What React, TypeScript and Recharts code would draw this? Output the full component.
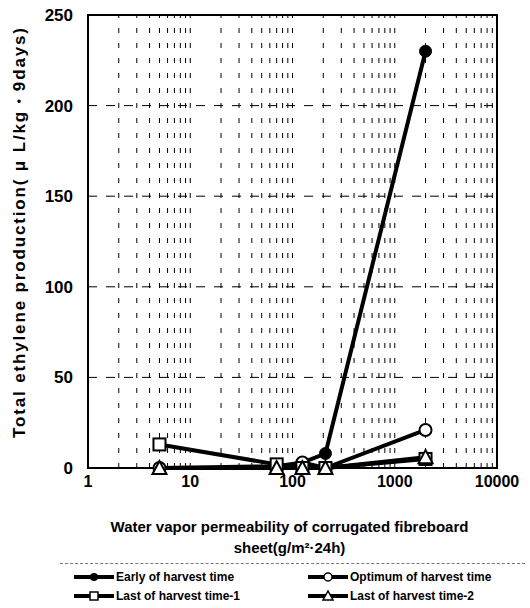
import React from "react";
import {
  LineChart,
  Line,
  XAxis,
  YAxis,
  ReferenceLine,
  ReferenceArea,
  Label,
} from "recharts";

// water vapor permeability (g/m2·24h)
const permeability = [5, 70, 125, 210, 2000];
const earlyHarvest = [0, 0, 3, 8, 230];
const optimumHarvest = [0, 1, 3, 0, 21];
const lastHarvest1 = [13, 2, 0, 0, 5];
const lastHarvest2 = [0, 0, 0, 0, 6];

const xTicks = [1, 10, 100, 1000, 10000];
const yTicks = [0, 50, 100, 150, 200, 250];
const minorX = [1, 10, 100, 1000].flatMap((d) =>
  [2, 3, 4, 5, 6, 7, 8, 9].map((m) => m * d)
);

const seriesNames = {
  early: "Early of harvest time",
  optimum: "Optimum of harvest time",
  last1: "Last of harvest time-1",
  last2: "Last of harvest time-2",
};

const data = permeability.map((x, i) => ({
  x,
  early: earlyHarvest[i],
  optimum: optimumHarvest[i],
  last1: lastHarvest1[i],
  last2: lastHarvest2[i],
}));

const FONT = "'Liberation Sans', Arial, sans-serif";

const Square = (props: any) => {
  const { cx, cy } = props;
  if (cx == null || cy == null) return null;
  return (
    <rect x={cx - 6} y={cy - 6} width={12} height={12} fill="#fff" stroke="#000" strokeWidth={2} />
  );
};

const Triangle = (props: any) => {
  const { cx, cy } = props;
  if (cx == null || cy == null) return null;
  return (
    <polygon
      points={`${cx},${cy - 7} ${cx - 7},${cy + 6} ${cx + 7},${cy + 6}`}
      fill="#fff"
      stroke="#000"
      strokeWidth={2}
    />
  );
};

const XLabel = (props: any) => {
  const { viewBox } = props;
  const cx = viewBox.x + viewBox.width / 2 - 3;
  return (
    <text textAnchor="middle" fontFamily={FONT} fontWeight="bold" fontSize={15} fill="#000">
      <tspan x={cx} y={532}>Water vapor permeability of corrugated fibreboard</tspan>
      <tspan x={cx} y={553}>sheet(g/m²·24h)</tspan>
    </text>
  );
};

const YLabel = () => (
  <text
    transform="translate(25, 233) rotate(-90)"
    textAnchor="middle"
    fontFamily={FONT}
    fontWeight="bold"
    fontSize={17}
    textLength={410}
    lengthAdjust="spacing"
    fill="#000"
  >
    Total ethylene production( μ L/kg・9days)
  </text>
);

const legendIcon = (kind: string) => {
  const line = <line x1={2} y1={7} x2={42} y2={7} stroke="#000" strokeWidth={4} />;
  let mark = null;
  if (kind === "early") mark = <circle cx={22} cy={7} r={4} fill="#000" />;
  if (kind === "optimum") mark = <circle cx={22} cy={7} r={4} fill="#fff" stroke="#000" strokeWidth={1.5} />;
  if (kind === "last1") mark = <rect x={18} y={3} width={8} height={8} fill="#fff" stroke="#000" strokeWidth={1.5} />;
  if (kind === "last2") mark = <polygon points="22,2 17,11 27,11" fill="#fff" stroke="#000" strokeWidth={1.5} />;
  return (
    <svg width={44} height={14} style={{ display: "block" }}>
      {line}
      {mark}
    </svg>
  );
};

const ChartLegend = () => {
  const keys = ["early", "optimum", "last1", "last2"] as const;
  return (
    <div style={{ position: "absolute", left: 0, top: 563, width: 530, height: 45, fontFamily: FONT }}>
      <div
        style={{
          position: "absolute",
          left: 60,
          top: 0,
          width: 465,
          borderTop: "1px dashed #777",
        }}
      />
      {keys.map((k, i) => (
        <div
          key={k}
          style={{
            position: "absolute",
            left: i % 2 === 0 ? 72 : 306,
            top: i < 2 ? 7 : 26,
            display: "flex",
            alignItems: "center",
            fontSize: 12,
            fontWeight: "bold",
            color: "#000",
            whiteSpace: "nowrap",
          }}
        >
          {legendIcon(k)}
          <span>{seriesNames[k]}</span>
        </div>
      ))}
    </div>
  );
};

export default function App() {
  return (
    <div
      style={{
        position: "absolute",
        left: 0,
        top: 0,
        width: 530,
        height: 608,
        background: "#fff",
      }}
    >
      <LineChart
        width={530}
        height={608}
        data={data}
        margin={{ top: 15, right: 33, bottom: 107, left: 0 }}
      >
        <XAxis
          dataKey="x"
          type="number"
          scale="log"
          domain={[1, 10000]}
          ticks={xTicks}
          allowDataOverflow
          axisLine={false}
          tickLine={false}
          tickSize={0}
          tickMargin={8}
          height={33}
          tick={{ fill: "#000", fontSize: 16, fontWeight: "bold", fontFamily: FONT }}
        >
          <Label content={<XLabel />} />
        </XAxis>
        <YAxis
          type="number"
          domain={[0, 250]}
          ticks={yTicks}
          axisLine={false}
          tickLine={false}
          tickSize={0}
          tickMargin={15}
          width={88}
          tick={{ fill: "#000", fontSize: 17, fontWeight: "bold", fontFamily: FONT }}
        >
          <Label content={<YLabel />} />
        </YAxis>
        {minorX.map((v) => (
          <ReferenceLine
            key={"v" + v}
            x={v}
            stroke="#000"
            strokeWidth={1}
            strokeDasharray="5 10"
            ifOverflow="hidden"
          />
        ))}
        {[10, 100, 1000].map((v) => (
          <ReferenceLine key={"d" + v} x={v} stroke="#000" strokeWidth={1} strokeDasharray="5 10" />
        ))}
        {[50, 100, 150, 200].map((v) => (
          <ReferenceLine key={"h" + v} y={v} stroke="#000" strokeWidth={1} strokeDasharray="9 9" />
        ))}
        <ReferenceArea x1={1} x2={10000} y1={0} y2={250} fill="none" stroke="#000" strokeWidth={2} />
        <Line
          dataKey="early"
          name={seriesNames.early}
          stroke="#000"
          strokeWidth={4}
          dot={{ r: 6, fill: "#000", stroke: "#000", strokeWidth: 1 }}
          isAnimationActive={false}
        />
        <Line
          dataKey="optimum"
          name={seriesNames.optimum}
          stroke="#000"
          strokeWidth={4}
          dot={{ r: 6, fill: "#fff", stroke: "#000", strokeWidth: 2 }}
          isAnimationActive={false}
        />
        <Line
          dataKey="last1"
          name={seriesNames.last1}
          stroke="#000"
          strokeWidth={4}
          dot={<Square />}
          isAnimationActive={false}
        />
        <Line
          dataKey="last2"
          name={seriesNames.last2}
          stroke="#000"
          strokeWidth={4}
          dot={<Triangle />}
          isAnimationActive={false}
        />
      </LineChart>
      <ChartLegend />
    </div>
  );
}
